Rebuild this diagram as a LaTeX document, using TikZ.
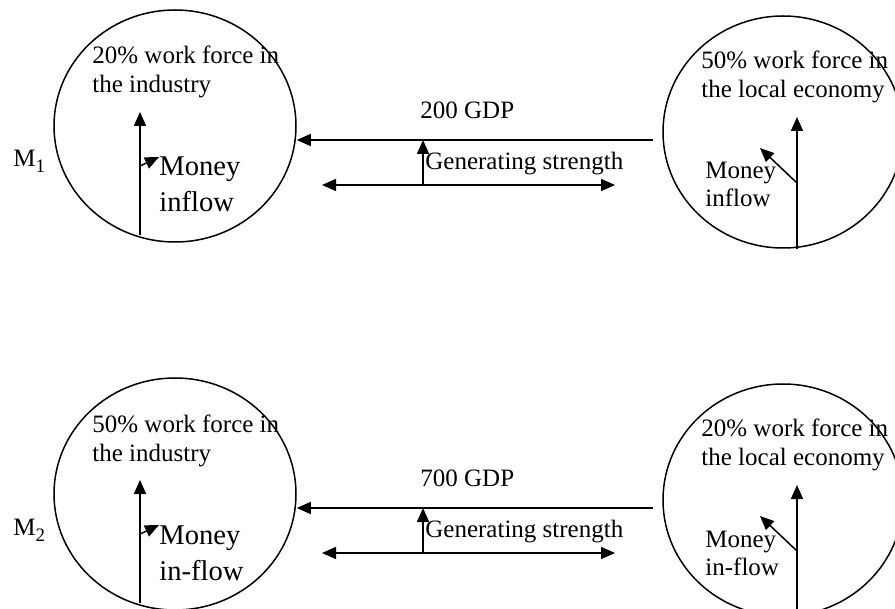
\documentclass[tikz,border=0pt]{standalone}
\usepackage{fontspec}
\setmainfont{Liberation Serif}
\usetikzlibrary{shapes.geometric,arrows.meta,positioning}

\begin{document}
\begin{tikzpicture}[x=0.5pt,y=-0.5pt,
    font=\fontsize{12.5}{14}\selectfont,
    circ/.style={draw, ellipse, line width=0.75pt, inner sep=0pt},
    lbl/.style={anchor=base west, inner sep=0pt, align=left, font=\fontsize{12.5}{14}\selectfont},
    flow/.style={line width=0.75pt, -{Triangle[length=7pt,width=6pt]}},
    twoway/.style={line width=0.75pt, {Triangle[length=7pt,width=6pt]}-{Triangle[length=7pt,width=6pt]}}]
    \useasboundingbox (0,0) rectangle (895,609);
    \clip (0,0) rectangle (895,609);

    % one panel per model
    \foreach \dy/\m/\pl/\pr/\gdp/\fl in {0/1/20/50/200/inflow, 368/2/50/20/700/in-flow}{
    \begin{scope}[shift={(0,\dy)}]
        % industry and local economy (base = last line)
        \node[circ, minimum width=121pt, minimum height=116pt] (L\m) at (175,126) {};
        \node[circ, minimum width=120pt, minimum height=116pt] (R\m) at (783,132) {};
        \node[lbl] (M\m) at (13,167) {M\raisebox{-3pt}{\fontsize{9.5}{9.5}\selectfont\m}};
        \node[lbl] (Lt\m) at (92,93) {\pl\% work force in\\[0.5pt]the industry};
        \node[lbl] (Rt\m) at (701,98) {\pr\% work force in\\[0.5pt]the local economy};
        \node[lbl, font=\fontsize{14.3}{18}\selectfont] (Lm\m) at (159,212) {Money\\\fl};
        \node[lbl] (Rm\m) at (705,207) {Money\\\fl};

        % GDP and generating strength
        \node[lbl] (gdp\m) at (420,119) {\gdp{} GDP};
        \node[lbl] (gen\m) at (425,170) {Generating strength};
        \coordinate (gs\m) at (653,140);
        \coordinate (gb\m) at (423,185);
        \coordinate (dl\m) at (322,185);
        \coordinate (dr\m) at (615,185);
        \draw[flow] (gs\m) -- (L\m.east |- gs\m);
        \draw[twoway] (dl\m) -- (dr\m);
        \draw[flow] (gb\m) -- (gb\m |- gs\m);

        % money flows inside
        \coordinate (lb\m) at (140,235);
        \coordinate (lu\m) at (140,112);
        \coordinate (lm\m) at (140,166);
        \coordinate (lt\m) at (159,157);
        \draw[flow] (lb\m) -- (lu\m);
        \draw[flow] (lm\m) -- (lt\m);
        \coordinate (ru\m) at (797,117);
        \coordinate (rm\m) at (797,183);
        \coordinate (rt\m) at (760,148);
        \draw[flow] (R\m.south -| ru\m) -- (ru\m);
        \draw[flow] (rm\m) -- (rt\m);
    \end{scope}
    }
\end{tikzpicture}
\end{document}
